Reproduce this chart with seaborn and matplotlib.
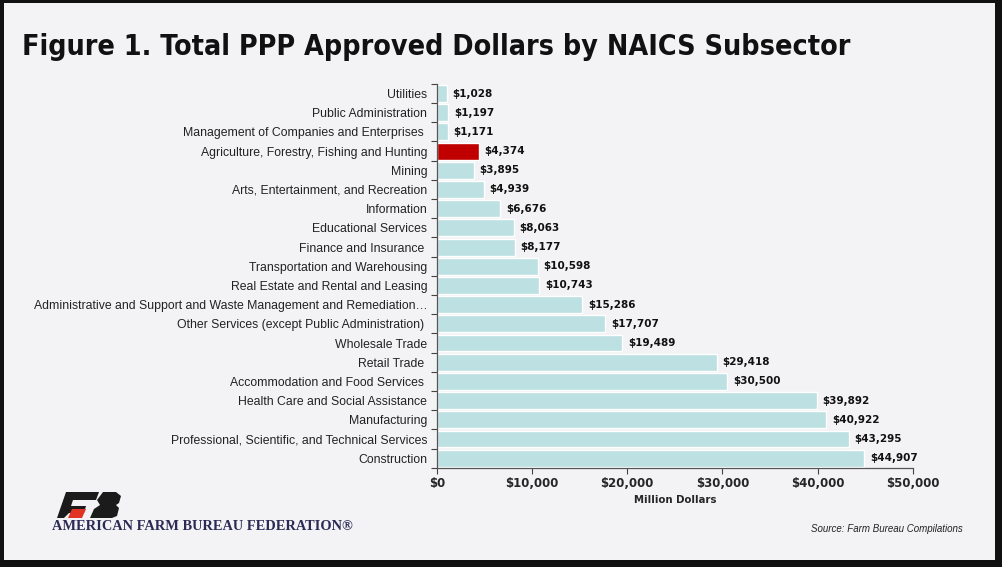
import numpy as np
import pandas as pd
import seaborn as sns
import matplotlib.pyplot as plt
from matplotlib.patches import Rectangle, Polygon
from matplotlib.ticker import FuncFormatter, FixedLocator

# data (million dollars), top to bottom
sectors = [
    "Utilities",
    "Public Administration",
    "Management of Companies and Enterprises ",
    "Agriculture, Forestry, Fishing and Hunting",
    "Mining",
    "Arts, Entertainment, and Recreation",
    "Information",
    "Educational Services",
    "Finance and Insurance ",
    "Transportation and Warehousing",
    "Real Estate and Rental and Leasing",
    "Administrative and Support and Waste Management and Remediation\u2026",
    "Other Services (except Public Administration) ",
    "Wholesale Trade",
    "Retail Trade ",
    "Accommodation and Food Services ",
    "Health Care and Social Assistance",
    "Manufacturing",
    "Professional, Scientific, and Technical Services",
    "Construction",
]
dollars = [1028, 1197, 1171, 4374, 3895, 4939, 6676, 8063, 8177, 10598,
           10743, 15286, 17707, 19489, 29418, 30500, 39892, 40922, 43295, 44907]
highlight = "Agriculture, Forestry, Fishing and Hunting"

df = pd.DataFrame({"sector": sectors, "dollars": dollars})
df["group"] = np.where(df["sector"] == highlight, "ag", "other")

sns.set_style("white")
plt.rcParams['font.family'] = ['Liberation Sans', 'DejaVu Sans']

fig = plt.figure(figsize=(10.02, 5.67), dpi=100, facecolor="#111111")
# light panel inside the dark frame
fig.patches.append(Rectangle((4 / 1002, 1 - 560 / 567), 991 / 1002, 557 / 567,
                             transform=fig.transFigure, facecolor="#f3f3f6",
                             edgecolor="none", zorder=-5))

ax = fig.add_axes([0.436, 0.175, 0.475, 0.677])
ax.set_facecolor("none")
ax.set_zorder(3)
sns.barplot(data=df, y="sector", x="dollars", hue="group", orient="h",
            palette={"ag": "#c00000", "other": "#bde0e2"}, width=0.88,
            legend=False, ax=ax, saturation=1)

for i, v in enumerate(dollars):
    ax.text(v + 600, i, f"${v:,}", va="center", ha="left", family="DejaVu Sans",
            fontsize=7.5, fontweight="bold", color="#111111")

ax.set_xlim(0, 50000)
ax.set_ylim(len(sectors) - 0.5, -0.5)
ax.xaxis.set_major_formatter(FuncFormatter(lambda x, p: f"${x:,.0f}"))
ax.set_xticks([0, 10000, 20000, 30000, 40000, 50000])
ax.set_xlabel("Million Dollars", fontsize=7.3, fontweight="bold", labelpad=3,
              family="DejaVu Sans")
ax.set_ylabel("")
for lab in ax.get_xticklabels():
    lab.set_fontweight("bold")
    lab.set_family("DejaVu Sans")
ax.tick_params(axis="x", labelsize=8.5, length=4, width=0.8, color="#444444",
               direction="out", bottom=True, pad=3)
ax.tick_params(axis="y", labelsize=8.8, length=0, pad=7, colors="#222222")
ax.yaxis.set_minor_locator(FixedLocator(np.arange(-0.5, len(sectors), 1)))
ax.tick_params(axis="y", which="minor", length=4, width=0.8, color="#444444",
               left=True)
for s in ["top", "right"]:
    ax.spines[s].set_visible(False)
for s in ["left", "bottom"]:
    ax.spines[s].set_color("#555555")
    ax.spines[s].set_linewidth(0.9)

fig.text(22 / 1002, 1 - 47 / 567, "Figure 1. Total PPP Approved Dollars by NAICS Subsector",
         fontsize=20.5, fontweight="bold", family="DejaVu Sans", fontstretch="condensed",
         va="center", ha="left", color="#111111")

fig.text(963 / 1002, 1 - 529 / 567, "Source: Farm Bureau Compilations",
         fontsize=7, style="italic", ha="right", va="center", color="#222222")

# simplified Farm Bureau logo
def fig_poly(pts, color):
    fig.patches.append(Polygon([(x / 1002, 1 - y / 567) for x, y in pts],
                               closed=True, transform=fig.transFigure,
                               facecolor=color, edgecolor="none", zorder=2))

fig_poly([(66, 492), (99, 492), (96, 500), (73, 500), (71, 506), (86, 506),
          (84, 513), (69, 513), (64, 518), (57, 518)], "#1b1b1b")
fig_poly([(72, 509), (86, 509), (82, 518), (68, 518)], "#e03323")
fig_poly([(103, 492), (116, 492), (121, 496), (119, 503), (116, 505),
          (119, 508), (117, 516), (112, 518), (90, 518), (94, 509), (100, 505),
          (97, 500)], "#1b1b1b")
fig.text(52 / 1002, 1 - 527 / 567, "AMERICAN FARM BUREAU FEDERATION\u00ae",
         fontsize=10.4, fontweight="bold", family="Liberation Serif",
         color="#2a2a55", ha="left", va="center")

fig.savefig("out.png", dpi=100, facecolor=fig.get_facecolor())
